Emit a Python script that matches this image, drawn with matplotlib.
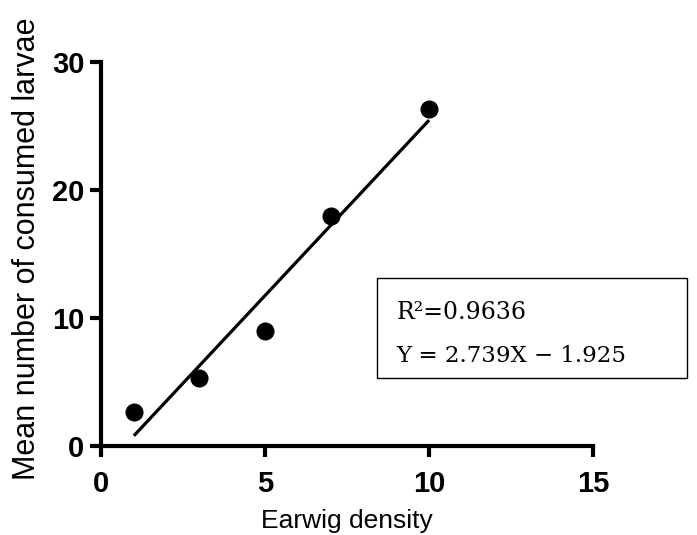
import matplotlib
matplotlib.use("Agg")
import numpy as np
import matplotlib.pyplot as plt
from matplotlib.patches import Rectangle

# data
density = [1, 3, 5, 7, 10]
consumed = [2.7, 5.3, 9.0, 18.0, 26.3]
slope = 2.739
intercept = -1.925
r2 = 0.9636

plt.rcParams['font.family'] = ['Liberation Sans', 'DejaVu Sans']

fig = plt.figure(figsize=(6.97, 5.35), dpi=100)
ax = fig.add_axes([0.145, 0.166, 0.706, 0.718])

xf = np.array([min(density), max(density)])
ax.plot(xf, slope * xf + intercept, color='black', lw=2.3, solid_capstyle='butt', zorder=2)
ax.plot(density, consumed, 'o', color='black', ms=12, zorder=3)

ax.set_xlim(0, 15)
ax.set_ylim(0, 30)
ax.set_xticks([0, 5, 10, 15])
ax.set_yticks([0, 10, 20, 30])

for s in ['top', 'right']:
    ax.spines[s].set_visible(False)
for s in ['left', 'bottom']:
    ax.spines[s].set_linewidth(3)
ax.tick_params(direction='out', length=8, width=3, labelsize=21, pad=4)
ax.tick_params(axis='x', pad=9)
for lab in ax.get_xticklabels() + ax.get_yticklabels():
    lab.set_fontweight('bold')

ax.set_xlabel('Earwig density', fontsize=19, labelpad=8)
ax.set_ylabel('Mean number of consumed larvae', fontsize=22)
ax.yaxis.set_label_coords(-0.12, 0.515)

# equation box
fig.patches.append(Rectangle((0.541, 0.293), 0.445, 0.187, transform=fig.transFigure,
                             fill=False, edgecolor='black', lw=1.0))
fig.text(0.569, 0.415, 'R\u00b2=%.4f' % r2, fontsize=17, family='DejaVu Serif',
         va='center', ha='left')
fig.text(0.569, 0.335, 'Y = %.3fX \u2212 %.3f' % (slope, -intercept), fontsize=16.5,
         family='DejaVu Serif', va='center', ha='left')

fig.savefig('out.png', dpi=100)
